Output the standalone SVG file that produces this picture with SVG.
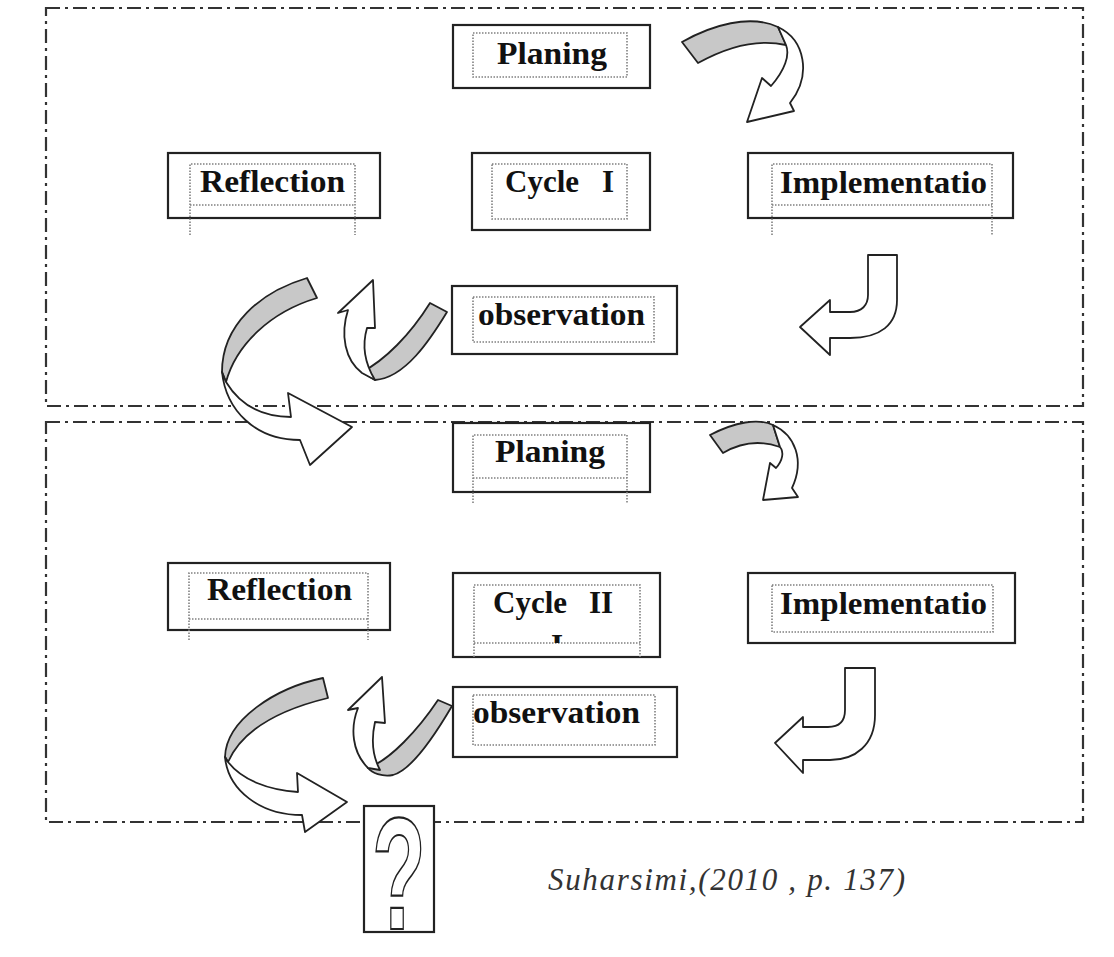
<svg xmlns="http://www.w3.org/2000/svg" width="1114" height="957" viewBox="0 0 1114 957">
<style>
.frame{fill:none;stroke:#333;stroke-width:2.2;stroke-dasharray:14 5 3 5}
.box{fill:#fff;stroke:#222;stroke-width:2.2}
.inner{fill:none;stroke:#808080;stroke-width:1.6;stroke-dasharray:1.5 1.5}
.lbl{font-family:"Liberation Serif","Times New Roman",serif;font-weight:bold;font-size:31px;fill:#111}
.band{fill:#c8c8c8;stroke:#222;stroke-width:1.8;stroke-linejoin:round}
.front{fill:#fff;stroke:#222;stroke-width:1.8;stroke-linejoin:round}
.cite{font-family:"Liberation Serif","Times New Roman",serif;font-style:italic;font-size:31px;fill:#333}
</style>
<defs>
<clipPath id="clipCyc"><rect x="474" y="585" width="166" height="58"/></clipPath>
</defs>
<rect width="1114" height="957" fill="#fff"/>
<g id="frames">
<rect class="frame" x="46" y="8" width="1037" height="398"/>
<rect class="frame" x="46" y="422" width="1037" height="400"/>
</g>
<g id="connectors">
<path class="band" d="M682,42 C712,25 750,14 778,27 L786,45 C755,38 725,48 698,63 Z"/>
<path class="front" d="M778,27 C805,40 812,75 790,103 L794,111 L747,122 L762,78 L771,86 C785,70 790,55 786,45 Z"/>
<path class="front" d="M868,255 L897,255 L897,300 C897,325 880,338 850,338 L830,338 L830,355 L800,327 L830,300 L830,312 L850,312 C862,312 868,305 868,295 Z"/>
<path class="band" d="M430,303 L447,312 C430,340 405,378 375,380 L362,372 C385,360 410,335 430,303 Z"/>
<path class="front" d="M362,373 C345,360 340,335 348,310 L338,313 L373,280 L375,328 L367,328 C362,345 364,362 375,380 Z"/>
<path class="band" d="M307,278 C260,292 222,325 222,372 L226,382 C236,345 270,312 317,298 Z"/>
<path class="front" d="M222,372 C226,410 255,440 300,440 L310,465 L352,427 L288,393 L291,417 C262,417 240,405 226,382 Z"/>
<path class="band" d="M710,435 C735,422 758,418 773,425 L780,447 C760,440 740,443 723,453 Z"/>
<path class="front" d="M773,425 C795,435 805,460 792,488 L798,497 L763,500 L770,463 L776,468 C783,460 784,452 780,447 Z"/>
<path class="front" d="M845,668 L875,668 L875,715 C875,745 855,760 830,760 L803,760 L803,773 L775,743 L803,717 L803,727 L828,727 C840,727 845,720 845,710 Z"/>
<path class="band" d="M438,700 L452,706 C435,735 412,770 393,775 C382,777 372,773 368,768 C390,760 418,730 438,700 Z"/>
<path class="front" d="M368,768 C352,752 350,728 358,708 L348,710 L382,677 L385,723 L375,722 C371,740 372,755 380,770 Z"/>
<path class="band" d="M323,678 C275,688 226,720 225,757 L228,762 C240,735 270,712 328,698 Z"/>
<path class="front" d="M225,757 C228,790 260,815 302,815 L305,832 L347,802 L297,773 L298,792 C268,790 242,780 228,762 Z"/>
</g>
<g id="planing1">
<rect class="box" x="453" y="25" width="197" height="63"/>
<rect class="inner" x="473" y="33" width="154" height="44"/>
<text class="lbl" x="497" y="64" textLength="110" lengthAdjust="spacingAndGlyphs">Planing</text>
</g>
<g id="reflection1">
<rect class="box" x="168" y="153" width="212" height="65"/>
<path class="inner" d="M190,235 L190,164 L355,164 L355,235 M190,205 L355,205"/>
<text class="lbl" x="200" y="192" textLength="145" lengthAdjust="spacingAndGlyphs">Reflection</text>
</g>
<g id="cycle1">
<rect class="box" x="472" y="153" width="178" height="77"/>
<rect class="inner" x="492" y="164" width="135" height="55"/>
<text class="lbl" x="505" y="192">Cycle <tspan x="602">I</tspan></text>
</g>
<g id="implementation1">
<rect class="box" x="748" y="153" width="265" height="65"/>
<path class="inner" d="M772,235 L772,164 L992,164 L992,235 M772,205 L992,205"/>
<text class="lbl" x="780" y="193" textLength="207" lengthAdjust="spacingAndGlyphs">Implementatio</text>
</g>
<g id="observation1">
<rect class="box" x="452" y="286" width="225" height="68"/>
<rect class="inner" x="473" y="297" width="181" height="45"/>
<text class="lbl" x="478" y="325" textLength="167" lengthAdjust="spacingAndGlyphs">observation</text>
</g>
<g id="planing2">
<rect class="box" x="453" y="423" width="197" height="69"/>
<path class="inner" d="M473,503 L473,435 L627,435 L627,503 M473,478 L627,478"/>
<text class="lbl" x="495" y="462" textLength="110" lengthAdjust="spacingAndGlyphs">Planing</text>
</g>
<g id="reflection2">
<rect class="box" x="168" y="563" width="222" height="67"/>
<path class="inner" d="M189,640 L189,573 L368,573 L368,640 M189,619 L368,619"/>
<text class="lbl" x="207" y="600" textLength="145" lengthAdjust="spacingAndGlyphs">Reflection</text>
</g>
<g id="cycle2">
<rect class="box" x="453" y="573" width="207" height="84"/>
<path class="inner" d="M474,657 L474,585 L640,585 L640,657 M474,643 L640,643"/>
<text class="lbl" x="493" y="613">Cycle <tspan x="589">II</tspan></text>
<text class="lbl" x="551" y="656" clip-path="url(#clipCyc)">I</text>
</g>
<g id="implementation2">
<rect class="box" x="748" y="573" width="267" height="70"/>
<rect class="inner" x="772" y="585" width="221" height="47"/>
<text class="lbl" x="780" y="614" textLength="207" lengthAdjust="spacingAndGlyphs">Implementatio</text>
</g>
<g id="observation2">
<rect class="box" x="453" y="687" width="224" height="70"/>
<rect class="inner" x="473" y="695" width="182" height="50"/>
<text class="lbl" x="473" y="723" textLength="167" lengthAdjust="spacingAndGlyphs">observation</text>
</g>
<g id="question">
<rect class="box" x="364" y="806" width="70" height="126"/>
<text x="0" y="0" transform="translate(399,929) scale(0.88,1.6)" text-anchor="middle" font-family="Liberation Sans, Arial, sans-serif" font-weight="bold" font-size="100" fill="#fff" stroke="#222" stroke-width="1.8" vector-effect="non-scaling-stroke">?</text>
</g>
<g id="citation">
<text class="cite" x="548" y="890" textLength="357" lengthAdjust="spacing">Suharsimi,(2010 , p. 137)</text>
</g>
</svg>
